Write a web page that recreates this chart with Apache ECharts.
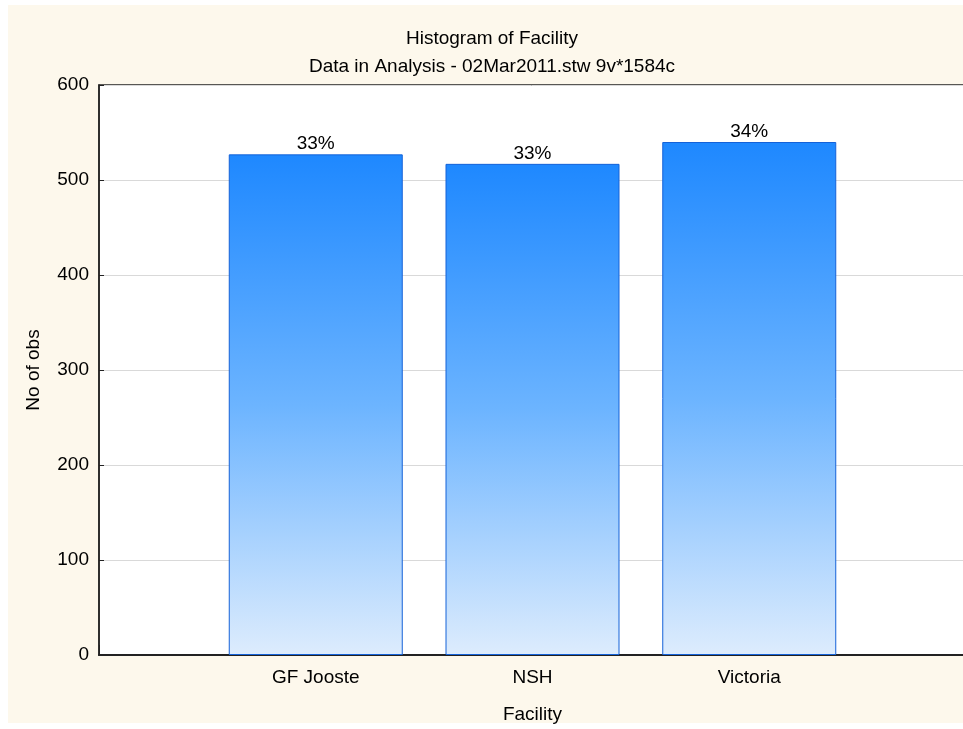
<!DOCTYPE html>
<html>
    <head>
        <meta charset="utf-8">
        <title>Histogram of Facility</title>
        <style>
            html, body { margin: 0; padding: 0; background: #ffffff; }
        </style>
    </head>
    <body>
        <div id="chart1" style="width:963px;height:729px;"></div>
    </body>
    <script src="https://cdn.jsdelivr.net/npm/echarts@6/dist/echarts.min.js"></script>
    <script type="text/javascript">
        // data
        var categories = ['GF Jooste', 'NSH', 'Victoria'];
        var counts = [527, 517, 540];
        var percentLabels = ['33%', '33%', '34%'];
        var yTicks = [0, 100, 200, 300, 400, 500, 600];

        var font = 'Liberation Sans, Arial, sans-serif';
        var myChart = echarts.init(document.getElementById('chart1'));

        // bars sit at 1,2,3 on a 0..4 axis, like the original
        var barData = categories.map(function (c, i) {
            return { value: [i + 1, counts[i]], label: { formatter: percentLabels[i] } };
        });

        // helper axes that only draw the small inward ticks
        function tickAxisX(pos) {
            return {
                type: 'value', position: pos, offset: -5, min: 0, max: 4, interval: 1,
                axisLine: { show: false },
                axisTick: { show: true, length: 5, lineStyle: { color: '#222' } },
                axisLabel: { show: false },
                splitLine: { show: false }
            };
        }

        var option = {
            backgroundColor: '#ffffff',
            animation: false,
            graphic: [{
                type: 'rect', z: -10, silent: true,
                shape: { x: 8, y: 5, width: 955, height: 718 },
                style: { fill: '#fdf8ec' }
            }],
            title: [{
                text: 'Histogram of Facility',
                left: 487, top: 24, textAlign: 'center',
                textStyle: { fontFamily: font, fontSize: 19, fontWeight: 'normal', color: '#000' }
            }, {
                text: 'Data in Analysis - 02Mar2011.stw 9v*1584c',
                left: 487, top: 52, textAlign: 'center',
                textStyle: { fontFamily: font, fontSize: 19, fontWeight: 'normal', color: '#000' }
            }],
            grid: {
                left: 99, top: 85, width: 867, bottom: 74,
                outerBoundsMode: 'none',
                show: true, backgroundColor: '#ffffff', borderColor: '#222', borderWidth: 1.5
            },
            xAxis: [{
                type: 'value', min: 0, max: 4, interval: 1,
                name: 'Facility', nameLocation: 'middle', nameGap: 50,
                nameTextStyle: { fontFamily: font, fontSize: 19, color: '#000' },
                axisLine: { show: true, onZero: false, lineStyle: { color: '#222', width: 2 } },
                axisTick: { show: false },
                axisLabel: {
                    margin: 13, fontFamily: font, fontSize: 19, color: '#000',
                    formatter: function (v) { return categories[v - 1] || ''; }
                },
                splitLine: { show: false }
            }, tickAxisX('bottom'), tickAxisX('top')],
            yAxis: [{
                type: 'value', min: yTicks[0], max: yTicks[yTicks.length - 1], interval: 100,
                name: 'No of obs', nameLocation: 'middle', nameGap: 56,
                nameTextStyle: { fontFamily: font, fontSize: 19, color: '#000' },
                axisLine: { show: true, lineStyle: { color: '#222', width: 1.5 } },
                axisTick: { show: false },
                axisLabel: { margin: 10, fontFamily: font, fontSize: 19, color: '#000' },
                splitLine: { show: true, lineStyle: { color: '#d9d9d9', width: 1 } }
            }, {
                type: 'value', position: 'left', offset: -5,
                min: yTicks[0], max: yTicks[yTicks.length - 1], interval: 100,
                axisLine: { show: false },
                axisTick: { show: true, length: 5, lineStyle: { color: '#222' } },
                axisLabel: { show: false },
                splitLine: { show: false }
            }],
            series: [{
                type: 'bar',
                xAxisIndex: 0, yAxisIndex: 0,
                barWidth: 174,
                data: barData,
                itemStyle: {
                    borderColor: '#1462d8', borderWidth: 1,
                    color: new echarts.graphic.LinearGradient(0, 0, 0, 1, [
                        { offset: 0, color: '#1e88ff' },
                        { offset: 0.5, color: '#6cb4ff' },
                        { offset: 1, color: '#ddecfd' }
                    ])
                },
                label: {
                    show: true, position: 'top', distance: 1,
                    fontFamily: font, fontSize: 19, color: '#000'
                }
            }]
        };
        myChart.setOption(option);
    </script>
</html>
